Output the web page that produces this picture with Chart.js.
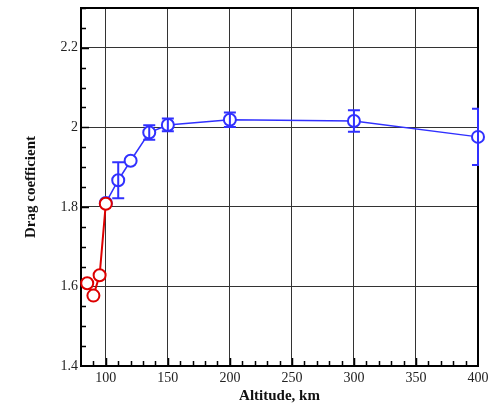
<!DOCTYPE html>
<html>
<head>
<meta charset="utf-8">
<script src="https://cdn.jsdelivr.net/npm/chart.js@4/dist/chart.umd.min.js"></script>
<style>
  html, body { margin: 0; padding: 0; background: #fff; }
  #wrap { width: 493px; height: 405px; }
</style>
</head>
<body>
<div id="wrap"><canvas id="dragChart"></canvas></div>
<script>
// altitude (km) and drag coefficient
const redAltitude = [85, 90, 95, 100];
const redDrag = [1.608, 1.577, 1.628, 1.808];

const blueAltitude = [100, 110, 120, 135, 150, 200, 300, 400];
const blueDrag = [1.81, 1.867, 1.916, 1.987, 2.006, 2.019, 2.016, 1.976];
const blueError = [0, 0.045, 0, 0.018, 0.016, 0.018, 0.027, 0.071];

const xTicks = [100, 150, 200, 250, 300, 350, 400];
const yTicks = [1.4, 1.6, 1.8, 2.0, 2.2];

const toPoints = (xs, ys) => xs.map((x, i) => ({ x: x, y: ys[i] }));

// error bars drawn through the scales
const errorBars = {
    id: 'errorBars',
    afterDatasetsDraw(chart) {
        const ctx = chart.ctx;
        const xs = chart.scales.x, ys = chart.scales.y;
        const area = chart.chartArea;
        ctx.save();
        ctx.beginPath();
        ctx.rect(area.left, area.top - 20, area.right - area.left + 1, area.bottom - area.top + 40);
        ctx.clip();
        ctx.strokeStyle = '#3030ff';
        ctx.lineWidth = 2;
        blueAltitude.forEach((alt, i) => {
            const e = blueError[i];
            if (!e) return;
            const px = xs.getPixelForValue(alt);
            const top = ys.getPixelForValue(blueDrag[i] + e);
            const bot = ys.getPixelForValue(blueDrag[i] - e);
            ctx.beginPath();
            ctx.moveTo(px, top); ctx.lineTo(px, bot);
            ctx.moveTo(px - 6, top); ctx.lineTo(px + 6, top);
            ctx.moveTo(px - 6, bot); ctx.lineTo(px + 6, bot);
            ctx.stroke();
        });
        ctx.restore();
    }
};

// inward tick marks on left and bottom axes
const innerTicks = {
    id: 'innerTicks',
    beforeDatasetsDraw(chart) {
        const ctx = chart.ctx;
        const xs = chart.scales.x, ys = chart.scales.y;
        const area = chart.chartArea;
        ctx.save();
        ctx.strokeStyle = '#000';
        ctx.lineWidth = 1.5;
        ctx.beginPath();
        for (let v = 1.45; v < 2.3; v += 0.05) {
            const py = Math.round(ys.getPixelForValue(v)) + 0.5;
            const major = Math.abs(v * 5 - Math.round(v * 5)) < 1e-6;
            ctx.moveTo(area.left, py);
            ctx.lineTo(area.left + (major ? 8 : 5), py);
        }
        for (let v = 90; v < 400; v += 10) {
            const px = Math.round(xs.getPixelForValue(v)) + 0.5;
            const major = v % 50 === 0;
            ctx.moveTo(px, area.bottom);
            ctx.lineTo(px, area.bottom - (major ? 8 : 5));
        }
        ctx.stroke();
        ctx.restore();
    }
};

new Chart(document.getElementById('dragChart'), {
    type: 'scatter',
    data: {
        datasets: [{
            label: 'Low altitude',
            data: toPoints(redAltitude, redDrag),
            showLine: true,
            borderColor: '#dd0000',
            borderWidth: 2,
            pointBackgroundColor: '#fff',
            pointBorderColor: '#dd0000',
            pointBorderWidth: 2,
            pointRadius: 6,
            clip: false
        }, {
            label: 'High altitude',
            data: toPoints(blueAltitude, blueDrag),
            showLine: true,
            borderColor: '#3030ff',
            borderWidth: 1.5,
            pointBackgroundColor: '#fff',
            pointBorderColor: '#3030ff',
            pointBorderWidth: 2,
            pointRadius: 6,
            clip: false
        }]
    },
    options: {
        responsive: true,
        maintainAspectRatio: false,
        animation: false,
        layout: { padding: { top: 5, right: 15, left: 0, bottom: 0 } },
        plugins: {
            legend: { display: false },
            tooltip: { enabled: false }
        },
        scales: {
            x: {
                type: 'linear',
                min: 80,
                max: 400,
                afterBuildTicks: s => { s.ticks = xTicks.map(v => ({ value: v })); },
                afterFit: s => { s.height = 39; s.paddingLeft = 0; s.paddingRight = 0; },
                grid: { color: '#333', lineWidth: 1, drawTicks: false },
                border: { color: '#000', width: 2 },
                ticks: {
                    color: '#222',
                    padding: 4,
                    font: { family: 'Liberation Serif', size: 14 }
                },
                title: {
                    display: true,
                    text: 'Altitude, km',
                    color: '#111',
                    padding: { top: 0, bottom: 0 },
                    font: { family: 'Liberation Serif', size: 15, weight: 'bold' }
                }
            },
            y: {
                min: 1.4,
                max: 2.3,
                afterBuildTicks: s => { s.ticks = yTicks.map(v => ({ value: v })); },
                afterFit: s => { s.width = 81; s.paddingTop = 0; s.paddingBottom = 0; },
                grid: { color: '#333', lineWidth: 1, drawTicks: false },
                border: { color: '#000', width: 2 },
                ticks: {
                    color: '#222',
                    padding: 3,
                    font: { family: 'Liberation Serif', size: 14 },
                    callback: v => String(Math.round(v * 10) / 10)
                },
                title: {
                    display: true,
                    text: 'Drag coefficient',
                    color: '#111',
                    padding: { top: 22, bottom: 0 },
                    font: { family: 'Liberation Serif', size: 15, weight: 'bold' }
                }
            },
            x2: {
                type: 'linear', position: 'top', min: 80, max: 400,
                grid: { display: false }, ticks: { display: false },
                border: { color: '#000', width: 2 },
                afterFit: s => { s.height = 0; s.paddingLeft = 0; s.paddingRight = 0; }
            },
            y2: {
                type: 'linear', position: 'right', min: 1.4, max: 2.3,
                grid: { display: false }, ticks: { display: false },
                border: { color: '#000', width: 2 },
                afterFit: s => { s.width = 0; s.paddingTop = 0; s.paddingBottom = 0; }
            }
        }
    },
    plugins: [innerTicks, errorBars]
});
</script>
</body>
</html>
